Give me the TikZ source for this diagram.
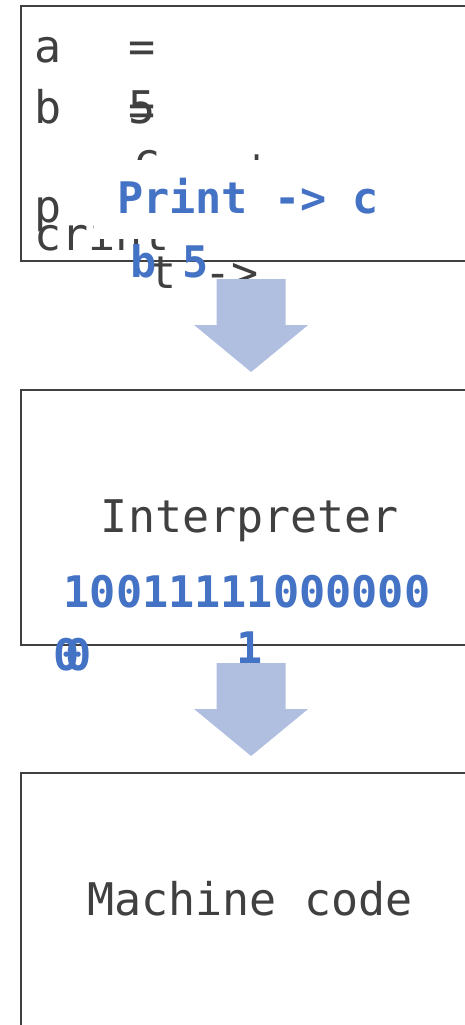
\documentclass[tikz,border=0pt]{standalone}
\usepackage{fontspec}
\usetikzlibrary{calc}
\newfontfamily\codefont{DejaVu Sans Mono}
\definecolor{inkgray}{HTML}{404040}
\definecolor{codeblue}{HTML}{4472C4}
\definecolor{arrowblue}{HTML}{B0BEDF}

\begin{document}
\begin{tikzpicture}[x=1pt,y=-1pt,
  box/.style={draw=inkgray, line width=2.2pt, inner sep=0pt, anchor=north west},
  dark/.style={text=inkgray, font=\codefont\fontsize{45}{54}\selectfont, inner sep=0pt, anchor=base west},
  darkmid/.style={text=inkgray, font=\codefont\fontsize{45}{54}\selectfont, inner sep=0pt, anchor=base},
  hot/.style={text=codeblue, font=\codefont\bfseries\fontsize{43.5}{52}\selectfont, inner sep=0pt, anchor=base west},
  hotmid/.style={text=codeblue, font=\codefont\bfseries\fontsize{43.5}{52}\selectfont, inner sep=0pt, anchor=base},
  flow/.style={fill=arrowblue}]
\useasboundingbox (0,0) rectangle (465,1025);
\clip (0,0) rectangle (465,1025);

% the three stages
\node[box, minimum width=460pt, minimum height=255pt] (src) at (20,5) {};
\node[box, minimum width=460pt, minimum height=255pt] (interp) at (20,389) {};
\node[box, minimum width=460pt, minimum height=270pt] (mach) at (20,772) {};

% source program (dark)
\node[dark] (la) at (34,63) {a};
\node[dark] (leq) at (128,63) {=};
\node[dark] (lb) at (34,123) {b};
\node[dark] (lfive) at (128,123) {5};
\node[dark] (leqb) at (128,125) {=};
\node[dark] (lc) at (133,175) {c};
\node[dark] (lplus) at (243.5,180) {+};
\node[dark] (lp) at (34,222) {p};
\node[dark] (lcr) at (34,250) {crint};
\node[dark] (lt) at (149,288) {t};
\node[dark] (larr) at (204,288) {->};

% white panel behind the highlighted line
\fill[white] (94,160) rectangle (464,239);

% flow arrows between stages
\fill[flow] ($(src.south)+(-34.5,17)$) -- ($(src.south)+(34.5,17)$)
  -- ($(interp.north)+(34.5,-64)$) -- ($(interp.north)+(57,-64)$)
  -- ($(interp.north)+(0,-17)$) -- ($(interp.north)+(-57,-64)$)
  -- ($(interp.north)+(-34.5,-64)$) -- cycle;
\fill[flow] ($(interp.south)+(-34.5,17)$) -- ($(interp.south)+(34.5,17)$)
  -- ($(mach.north)+(34.5,-63)$) -- ($(mach.north)+(57,-63)$)
  -- ($(mach.north)+(0,-16)$) -- ($(mach.north)+(-57,-63)$)
  -- ($(mach.north)+(-34.5,-63)$) -- cycle;

% stage labels
\node[darkmid] (tinterp) at (250,532) {Interpreter};
\node[darkmid] (tmach) at (250,915) {Machine code};

% highlighted tokens (blue)
\node[hot] (hprint) at (117,213) {Print -> c};
\node[hot] (hb) at (130,277) {b 5};
\node[hotmid] (hbits) at (247,607) {10011111000000};
\node[hotmid] (hone) at (250,663) {1};
\node[hot] (hz1) at (53,670) {0};
\node[hot] (hz2) at (65,670) {0};
\end{tikzpicture}
\end{document}
